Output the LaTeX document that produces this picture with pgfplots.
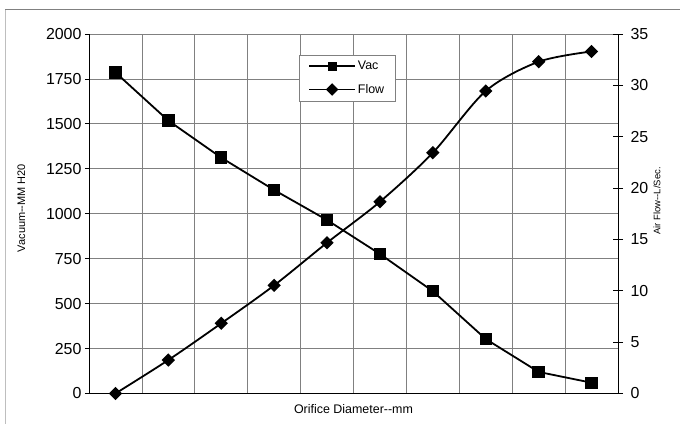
\documentclass[border=0pt]{standalone}
\usepackage{fontspec}
\setmainfont{Liberation Sans}
\usepackage{pgfplots}
\pgfplotsset{compat=1.18}

\definecolor{gridgray}{RGB}{128,128,128}
\definecolor{framegray}{RGB}{190,190,190}

\pgfplotsset{
  twin/.style={
    at={(89bp,30.5bp)}, anchor=south west,
    scale only axis, width=529bp, height=359.5bp,
    xmin=0, xmax=10, clip=false,
    axis line style={black, line width=1bp, -},
    tick style={black, line width=0.8bp},
    tick label style={font=\fontsize{16}{18}\selectfont},
    /pgf/number format/assume math mode=true,
    /pgf/number format/1000 sep={},
  },
}

\begin{document}
\begin{tikzpicture}
\useasboundingbox (0,0) rectangle (680bp,424bp);
\fill[white] (0,0) rectangle (680bp,424bp);
\draw[framegray, line width=1bp] (5bp,0) -- (5bp,414.5bp);
\draw[gridgray, line width=1bp] (5bp,414.5bp) -- (680bp,414.5bp);

% left axis: vacuum
\begin{axis}[
  twin,
  ymin=0, ymax=2000,
  xtick={0,...,10}, xticklabels={},
  ytick={0,250,...,2000},
  axis y line*=left, axis x line*=bottom,
  tick align=outside, major tick length=4bp,
  x tick style={draw=none},
  grid=major, grid style={gridgray, line width=0.8bp},
  ylabel={Vacuum-{}-MM H20},
  ylabel style={at={(axis description cs:-0.128,0.516)}, anchor=center,
    font=\fontsize{11}{13}\selectfont},
  xlabel={Orifice Diameter-{}-mm},
  xlabel style={at={(axis description cs:0.5,-0.043)}, anchor=center,
    font=\fontsize{12.5}{14}\selectfont},
]
\addplot[black, line width=1.8bp, mark=square*, mark size=5.3bp,
  mark options={solid}] coordinates {
  (0.5,1786) (1.5,1518) (2.5,1312) (3.5,1132) (4.5,965)
  (5.5,776) (6.5,569) (7.5,303) (8.5,120) (9.5,60)
};
\end{axis}

% right axis: air flow
\begin{axis}[
  twin,
  ymin=0, ymax=35,
  ytick={0,5,...,35},
  axis y line*=right, axis x line=none,
  tick align=center, major tick length=10bp,
  yticklabel style={xshift=4bp},
  ylabel={Air Flow-{}-L/Sec.},
  ylabel style={at={(axis description cs:1.0737,0.5355)}, anchor=center,
    rotate=0, font=\fontsize{9.5}{11}\selectfont},
  legend style={at={(axis description cs:0.397,0.9416)}, anchor=north west,
    draw=gridgray, fill=white,
    font=\fontsize{12.5}{14}\selectfont, row sep=9bp,
    inner xsep=9bp, inner ysep=4bp},
  legend cell align=left,
  legend image code/.code={
    \draw[#1, line width=1.7bp, mark size=3.6bp, mark repeat=2, mark phase=2]
      plot coordinates {(0bp,0bp) (23bp,0bp) (46bp,0bp)};
  },
]
\addlegendimage{black, mark=square*}
\addlegendentry{Vac}
\addplot[black, line width=1.8bp, smooth, tension=0.5,
  mark=square*, mark size=3.8bp, mark options={rotate=45}] coordinates {
  (0.5,0) (1.5,3.26) (2.5,6.83) (3.5,10.53) (4.5,14.68)
  (5.5,18.67) (6.5,23.44) (7.5,29.45) (8.5,32.3) (9.5,33.3)
};
\addlegendentry{Flow}
\end{axis}
\end{tikzpicture}
\end{document}
